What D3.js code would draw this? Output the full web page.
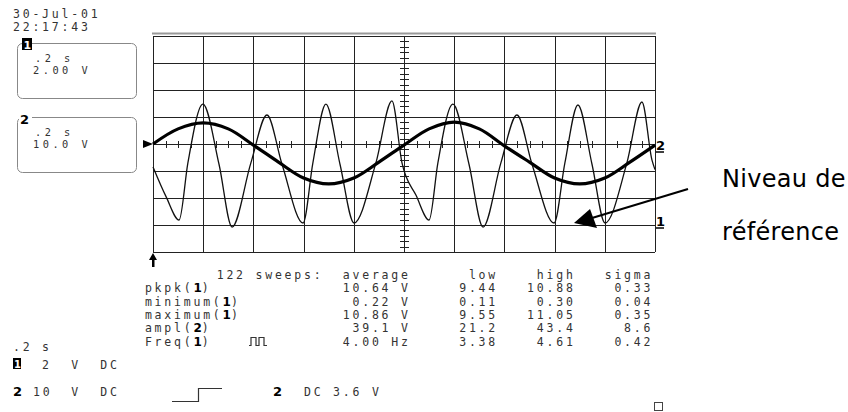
<!DOCTYPE html>
<html>
<head>
<meta charset="utf-8">
<title>Scope capture</title>
<script src="https://d3js.org/d3.v7.min.js"></script>
<style>
  body { margin: 0; background: #fff; }
  svg { display: block; }
  .mono { font-family: "DejaVu Sans Mono", monospace; font-size: 11.5px; letter-spacing: 2.78px; fill: #333; }
  .mono.small { font-size: 10.3px; letter-spacing: 3.5px; }
  .chan { font-family: "DejaVu Sans", sans-serif; font-weight: bold; font-size: 13px; letter-spacing: 0; fill: #000; }
  .grid line { stroke: #222; shape-rendering: crispEdges; }
  .grid .domain { display: none; }
  .note { font-family: "DejaVu Sans", sans-serif; font-size: 24px; letter-spacing: 0.3px; fill: #000; }
</style>
</head>
<body>
<svg id="scope" width="848" height="412"></svg>
<script>
// channel 1 trace (2 V/div)
const ch1Time = [0.000, 0.052, 0.104, 0.139, 0.199, 0.263, 0.315, 0.390, 0.454, 0.514, 0.598, 0.637,
                 0.689, 0.745, 0.801, 0.888, 0.952, 0.992, 1.048, 1.100, 1.135, 1.195, 1.259, 1.315,
                 1.386, 1.450, 1.510, 1.598, 1.641, 1.693, 1.749, 1.801, 1.888, 1.948, 1.988, 2.000];
const ch1Volts = [4.3, 2.1, 0.37, 4.6, 8.96, 4.5, -0.15, 4.6, 8.15, 4.5, 0.15, 4.6,
                  8.96, 4.5, 0.15, 4.6, 9.19, 4.6, 2.2, 0.37, 4.6, 8.96, 4.5, -0.15,
                  4.6, 8.15, 4.5, 0.15, 4.6, 8.89, 4.5, 0.15, 4.6, 9.11, 4.8, 4.1];

// channel 2 trace (10 V/div)
const ch2Time = [0, 0.1, 0.2, 0.3, 0.4, 0.5, 0.6, 0.7, 0.8, 0.9, 1.0,
                 1.1, 1.2, 1.3, 1.4, 1.5, 1.6, 1.7, 1.8, 1.9, 2.0];
const ch2Volts = [0, 5.6, 7.8, 5.6, -0.4, -6.7, -12.6, -14.8, -12.6, -6.7, -0.4,
                  5.6, 8.1, 5.6, -0.7, -6.7, -12.6, -14.8, -12.6, -6.7, -0.4];

// measurement table
const tableHeads = ['average', 'low', 'high', 'sigma'];
const measureNames = ['pkpk', 'minimum', 'maximum', 'ampl', 'Freq'];
const measureChans = ['1', '1', '1', '2', '1'];
const measureAvg = ['10.64 V', '0.22 V', '10.86 V', '39.1 V', '4.00 Hz'];
const measureLow = ['9.44', '0.11', '9.55', '21.2', '3.38'];
const measureHigh = ['10.88', '0.30', '11.05', '43.4', '4.61'];
const measureSigma = ['0.33', '0.04', '0.35', '8.6', '0.42'];

const svg = d3.select('#scope');
const gLeft = 153, gRight = 655, gTop = 36, gBottom = 252;

const x = d3.scaleLinear().domain([0, 2]).range([gLeft, gRight]);
const y1 = d3.scaleLinear().domain([-2, 14]).range([gBottom, gTop]);   // ground 3 div below centre
const y2 = d3.scaleLinear().domain([-40, 40]).range([gBottom, gTop]);

// screen text sits on a character grid
const cw = 9.7, x0 = 13;
const col = n => x0 + n * cw;
const nb = s => s.replace(/ /g, '\u00A0');
const pad = (s, n) => nb(s.padStart(n, ' '));

function mono(g, xx, yy, s) {
  return g.append('text').attr('class', 'mono').attr('x', xx).attr('y', yy).text(nb(s));
}

// graticule
svg.append('line').attr('x1', gLeft - 1).attr('x2', gRight + 1).attr('y1', 33.5).attr('y2', 33.5)
  .attr('stroke', '#999').attr('stroke-width', 2);

svg.append('g').attr('class', 'grid')
  .attr('transform', `translate(0,${gBottom})`)
  .call(d3.axisBottom(x).tickValues(x.ticks(10)).tickSize(-(gBottom - gTop)).tickFormat(''));
svg.append('g').attr('class', 'grid')
  .attr('transform', `translate(${gLeft},0)`)
  .call(d3.axisLeft(y2).tickValues(y2.ticks(8)).tickSize(-(gRight - gLeft)).tickFormat(''));

// minor ticks on the centre lines
const cx = x(1), cy = y2(0);
svg.append('g').selectAll('line').data(x.ticks(50)).join('line')
  .attr('x1', d => Math.round(x(d)) + 0.5).attr('x2', d => Math.round(x(d)) + 0.5)
  .attr('y1', cy - 3).attr('y2', cy + 4).attr('stroke', '#222');
svg.append('g').selectAll('line').data(y2.ticks(40)).join('line')
  .attr('y1', d => Math.round(y2(d)) + 0.5).attr('y2', d => Math.round(y2(d)) + 0.5)
  .attr('x1', cx - 4).attr('x2', cx + 5).attr('stroke', '#222');

// traces
const ch1 = ch1Time.map((t, i) => [t, ch1Volts[i]]);
const ch2 = ch2Time.map((t, i) => [t, ch2Volts[i]]);

svg.append('path').datum(ch1)
  .attr('d', d3.line().x(d => x(d[0])).y(d => y1(d[1])).curve(d3.curveMonotoneX))
  .attr('fill', 'none').attr('stroke', '#111').attr('stroke-width', 1.3);
svg.append('path').datum(ch2)
  .attr('d', d3.line().x(d => x(d[0])).y(d => y2(d[1])).curve(d3.curveCatmullRom))
  .attr('fill', 'none').attr('stroke', '#000').attr('stroke-width', 3.2);

// markers around the graticule
svg.append('path').attr('d', `M${gLeft - 10},${cy - 4} L${gLeft},${cy} L${gLeft - 10},${cy + 4} Z`).attr('fill', '#000');
svg.append('path')
  .attr('d', `M${gLeft},${gBottom + 1} L${gLeft - 4},${gBottom + 8} L${gLeft + 4},${gBottom + 8} Z M${gLeft - 1},${gBottom + 8} h2.5 v7 h-2.5 Z`)
  .attr('fill', '#000');

svg.append('text').attr('class', 'chan').attr('x', gRight + 1).attr('y', y2(0) + 6).text('2');
svg.append('line').attr('x1', gRight + 1).attr('x2', gRight + 9).attr('y1', y2(0) + 8).attr('y2', y2(0) + 8)
  .attr('stroke', '#000').attr('stroke-width', 1.5);
svg.append('text').attr('class', 'chan').attr('x', gRight + 1).attr('y', y1(0) + 1).text('1');
svg.append('line').attr('x1', gRight + 1).attr('x2', gRight + 9).attr('y1', y1(0) + 3).attr('y2', y1(0) + 3)
  .attr('stroke', '#000').attr('stroke-width', 1.5);

// date / time
mono(svg, col(0), 18, '30-Jul-01');
mono(svg, col(0), 31, '22:17:43');

// channel boxes
function chanBox(yTop, label, inverted, line1, line2) {
  const g = svg.append('g');
  g.append('rect').attr('x', 17.5).attr('y', yTop + 0.5).attr('width', 119).attr('height', 55).attr('rx', 5)
    .attr('fill', 'none').attr('stroke', '#888');
  if (inverted) {
    g.append('rect').attr('x', 22).attr('y', yTop - 5).attr('width', 10).attr('height', 12).attr('fill', '#000');
    g.append('text').attr('class', 'chan').attr('x', 23.5).attr('y', yTop + 5.5)
      .style('fill', '#fff').style('font-size', '11px').text(label);
  } else {
    g.append('rect').attr('x', 19).attr('y', yTop - 3).attr('width', 13).attr('height', 8).attr('fill', '#fff');
    g.append('text').attr('class', 'chan').attr('x', 20).attr('y', yTop + 7).text(label);
  }
  mono(g, 35, yTop + 19, line1).classed('small', true);
  mono(g, 33, yTop + 31, line2).classed('small', true);
}
chanBox(43, '1', true, '.2 s', '2.00 V');
chanBox(117, '2', false, '.2 s', '10.0 V');

// measurement table
const rowY = [279, 292.3, 305.6, 318.9, 332.2, 345.5];
mono(svg, col(21), rowY[0], '122 sweeps:');
mono(svg, col(34), rowY[0], tableHeads[0]);
mono(svg, col(45), rowY[0], pad(tableHeads[1], 5));
mono(svg, col(53), rowY[0], pad(tableHeads[2], 5));
mono(svg, col(61), rowY[0], pad(tableHeads[3], 5));

measureNames.forEach((name, i) => {
  const yy = rowY[i + 1];
  const t = svg.append('text').attr('class', 'mono').attr('x', col(13.6)).attr('y', yy);
  t.append('tspan').text(name + '(');
  t.append('tspan').attr('class', 'chan').style('font-size', '12px').text(measureChans[i]);
  t.append('tspan').text(')');
  mono(svg, col(34), yy, pad(measureAvg[i], 7));
  mono(svg, col(45), yy, pad(measureLow[i], 5));
  mono(svg, col(53), yy, pad(measureHigh[i], 5));
  mono(svg, col(61), yy, pad(measureSigma[i], 5));
});

// pulse glyph next to Freq(1)
const py = rowY[5];
svg.append('path')
  .attr('d', `M249,${py} h2 v-8 h5 v8 h3 v-8 h5 v8 h3`)
  .attr('fill', 'none').attr('stroke', '#333').attr('stroke-width', 1.2);

// bottom status lines
mono(svg, col(0), 351, '.2 s');
svg.append('rect').attr('x', 13).attr('y', 358).attr('width', 8).attr('height', 11).attr('fill', '#000');
svg.append('text').attr('class', 'chan').attr('x', 14).attr('y', 368).style('fill', '#fff').style('font-size', '10px').text('1');
mono(svg, col(3), 369, '2');
mono(svg, col(6), 369, 'V');
mono(svg, col(9), 369, 'DC');

svg.append('text').attr('class', 'chan').attr('x', 13).attr('y', 396).text('2');
mono(svg, 33, 396, '10');
mono(svg, col(6), 396, 'V');
mono(svg, col(9), 396, 'DC');
svg.append('path').attr('d', 'M172,401.5 H198.5 V388.5 H222')
  .attr('fill', 'none').attr('stroke', '#333').attr('stroke-width', 1.2);
svg.append('text').attr('class', 'chan').attr('x', 273).attr('y', 396).text('2');
mono(svg, col(30), 396, 'DC 3.6 V');

svg.append('rect').attr('x', 654.5).attr('y', 402.5).attr('width', 8).attr('height', 8)
  .attr('fill', 'none').attr('stroke', '#444');

// annotation
svg.append('line').attr('x1', 688).attr('y1', 189).attr('x2', 592).attr('y2', 218)
  .attr('stroke', '#000').attr('stroke-width', 2);
svg.append('path').attr('d', 'M574,223 L590,209 L597,228 Z').attr('fill', '#000');
svg.append('text').attr('class', 'note').attr('x', 722).attr('y', 187).text('Niveau de');
svg.append('text').attr('class', 'note').attr('x', 722).attr('y', 240).text('référence');
</script>
</body>
</html>
